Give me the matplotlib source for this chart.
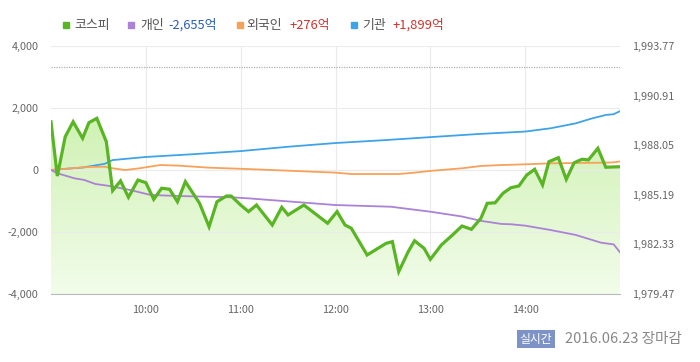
import matplotlib
matplotlib.use('Agg')
import matplotlib.pyplot as plt
from matplotlib.patches import Rectangle, Polygon
import numpy as np

plt.rcParams['font.family'] = ['Noto Sans CJK KR', 'DejaVu Sans']

# KOSPI intraday (minutes after 09:00, index)
kospi_min = [0, 4, 9, 14, 20, 24, 29, 35, 39, 44, 49, 55, 60, 65, 70, 75, 80, 85,
             94, 100, 105, 111, 114, 120, 125, 130, 140, 146, 150, 160, 175, 181,
             186, 190, 200, 212, 216, 220, 226, 230, 236, 240, 247, 254, 260, 266,
             272, 276, 281, 286, 291, 296, 301, 306, 311, 315, 321, 326, 331, 336,
             340, 346, 351, 360]
kospi_val = [1989.40, 1986.27, 1988.54, 1989.40, 1988.45, 1989.35, 1989.60, 1988.25,
             1985.43, 1985.99, 1985.05, 1986.04, 1985.89, 1984.93, 1985.57, 1985.51,
             1984.79, 1985.95, 1984.70, 1983.35, 1984.79, 1985.12, 1985.12, 1984.60,
             1984.22, 1984.60, 1983.45, 1984.47, 1984.03, 1984.60, 1983.55, 1984.22,
             1983.45, 1983.26, 1981.72, 1982.39, 1982.49, 1980.76, 1981.91, 1982.54,
             1982.11, 1981.47, 1982.30, 1982.87, 1983.39, 1983.20, 1983.84, 1984.70,
             1984.73, 1985.28, 1985.60, 1985.70, 1986.33, 1986.66, 1985.76, 1987.10,
             1987.33, 1986.08, 1987.04, 1987.24, 1987.20, 1987.87, 1986.78, 1986.81]
prev_close = 1992.58

# investor net buying (억원)
inst_min = [0, 20, 34, 39, 60, 90, 120, 150, 180, 210, 240, 270, 300, 316, 332, 342, 351, 356, 360]
inst_val = [0, 80, 200, 320, 420, 510, 610, 750, 870, 960, 1060, 1160, 1240, 1345, 1505, 1660, 1775, 1800, 1899]

frgn_min = [0, 24, 34, 39, 47, 56, 69, 81, 100, 125, 180, 190, 220, 230, 240, 260, 272, 285, 301, 316, 348, 356, 360]
frgn_val = [0, 100, 105, 55, 0, 55, 160, 140, 75, 30, -85, -130, -130, -85, -30, 55, 130, 160, 185, 215, 235, 245, 276]

indv_min = [0, 4, 15, 21, 28, 37, 50, 63, 81, 114, 125, 180, 215, 240, 260, 272, 285, 291, 300, 316, 332, 348, 356, 360]
indv_val = [0, -105, -270, -320, -450, -515, -645, -805, -840, -880, -915, -1130, -1185, -1345, -1500, -1640, -1740, -1750, -1795, -1935, -2095, -2345, -2400, -2655]

y_ticks = [-4000, -2000, 0, 2000, 4000]
k_ticks = [1979.47, 1982.33, 1985.19, 1988.05, 1990.91, 1993.77]
x_ticks = [60, 120, 180, 240, 300]
x_labels = ['10:00', '11:00', '12:00', '13:00', '14:00']

green = '#5ab524'
purple = '#ab82d6'
orange = '#f7a25a'
blue = '#3fa3e8'
gray = '#666666'

W, H = 700, 362
fig = plt.figure(figsize=(7, 3.62), dpi=100)
rect = [51 / W, 1 - 294 / H, (620 - 51) / W, (294 - 46) / H]

# KOSPI axis (bottom layer) + investor axis on top
axk = fig.add_axes(rect)
axi = axk.twinx()

axk.set_xlim(0, 360)
axk.set_ylim(k_ticks[0], k_ticks[-1])
axk.yaxis.tick_right()
axk.set_yticks(k_ticks)
axk.set_yticklabels(['{:,.2f}'.format(v) for v in k_ticks])
axk.tick_params(axis='y', length=0, pad=9, labelsize=7.8, labelcolor=gray)
axk.set_xticks(x_ticks)
axk.set_xticklabels(x_labels)
axk.tick_params(axis='x', direction='in', length=4, color='#bbbbbb', pad=8,
                labelsize=7.8, labelcolor=gray)
axk.grid(True, axis='x', color='#ebebeb', lw=0.8)
axk.set_axisbelow(True)
for k, s in axk.spines.items():
    s.set_visible(k == 'bottom')
axk.spines['bottom'].set_color('#bbbbbb')

# gradient fill under the KOSPI line
grad = np.linspace(0, 1, 256).reshape(-1, 1)
top_c = np.array([0.76, 0.93, 0.62])
bot_c = np.array([0.95, 0.99, 0.92])
img = top_c * (1 - grad[..., None]) + bot_c * grad[..., None]
im = axk.imshow(img, extent=[0, 360, k_ticks[0], k_ticks[-1]], aspect='auto',
                origin='upper', zorder=1)
verts = list(zip(kospi_min, kospi_val)) + [(kospi_min[-1], k_ticks[0]), (kospi_min[0], k_ticks[0])]
clip = Polygon(verts, transform=axk.transData, facecolor='none', edgecolor='none')
axk.add_patch(clip)
im.set_clip_path(clip)
axk.axhline(prev_close, color='#b0b0b0', lw=0.9, ls=(0, (1, 1)), zorder=2)

axi.set_ylim(-4000, 4000)
axi.yaxis.tick_left()
axi.set_yticks(y_ticks)
axi.set_yticklabels(['{:,}'.format(v) for v in y_ticks])
axi.tick_params(axis='y', length=0, pad=9, labelsize=7.8, labelcolor=gray)
axi.grid(True, axis='y', color='#ebebeb', lw=0.8)
for s in axi.spines.values():
    s.set_visible(False)

axi.plot(inst_min, inst_val, color=blue, lw=1.3, zorder=3)
axi.plot(frgn_min, frgn_val, color=orange, lw=1.3, zorder=3)
axi.plot(indv_min, indv_val, color=purple, lw=1.3, zorder=3)
axi.plot(kospi_min, kospi_val, color=green, lw=2.3, zorder=4,
         transform=axk.transData, solid_joinstyle='miter')

# legend row
def fx(px):
    return px / W

def fy(py):
    return 1 - py / H

ly = 25
items = [
    (63, green, '코스피', 74, None, None, None),
    (128, purple, '개인', 140, '-2,655억', 168, '#2b5fb4'),
    (237, orange, '외국인', 246, '+276억', 290, '#d0332d'),
    (351, blue, '기관', 362, '+1,899억', 392, '#d0332d'),
]
for sx, c, name, tx, num, nx, nc in items:
    fig.patches.append(Rectangle((fx(sx), fy(ly + 3)), 6 / W, 6 / H, color=c,
                                 transform=fig.transFigure, figure=fig))
    fig.text(fx(tx), fy(ly), name, fontsize=9.3, color='#555555', va='center', ha='left')
    if num:
        fig.text(fx(nx), fy(ly), num, fontsize=9.3, color=nc, va='center', ha='left')

fig.text(fx(536), fy(339), '실시간', fontsize=8.5, color='white', va='center', ha='center',
         bbox=dict(boxstyle='square,pad=0.22', fc='#7d93c6', ec='none'))
fig.text(fx(565), fy(339), '2016.06.23 장마감', fontsize=10.5, color='#888888',
         va='center', ha='left')

fig.savefig('out.png', dpi=100)
